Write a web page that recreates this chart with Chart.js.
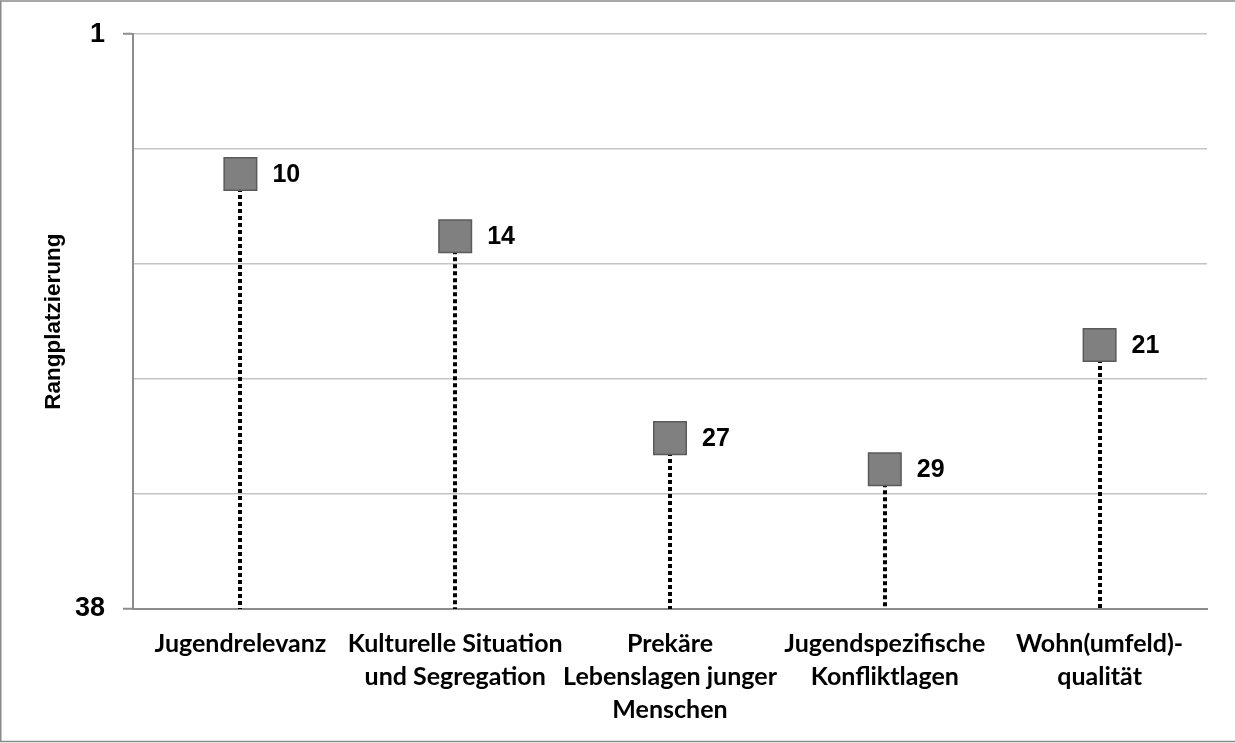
<!DOCTYPE html>
<html>
<head>
<meta charset="utf-8">
<script src="https://cdn.jsdelivr.net/npm/chart.js@4/dist/chart.umd.min.js"></script>
<style>
  html, body { margin: 0; padding: 0; background: #fff; }
  #wrap { position: relative; width: 1235px; height: 743px; }
  canvas { display: block; }
</style>
</head>
<body>
<div id="wrap"><canvas id="c" width="1235" height="743"></canvas></div>
<script>
const categories = [
  "Jugendrelevanz",
  ["Kulturelle Situation", "und Segregation"],
  ["Prekäre", "Lebenslagen junger", "Menschen"],
  ["Jugendspezifische", "Konfliktlagen"],
  ["Wohn(umfeld)-", "qualität"]
];
const ranks = [10, 14, 27, 29, 21];
const yMin = 1;
const yMax = 38;
const gridValues = [1, 8.4, 15.8, 23.2, 30.6, 38];
const yLabels = ["1", "38"];
const yTitle = "Rangplatzierung";

const frame = {
  id: 'frame',
  beforeDraw(chart) {
    const ctx = chart.ctx;
    ctx.save();
    ctx.fillStyle = '#fff';
    ctx.fillRect(0, 0, chart.width, chart.height);
    ctx.strokeStyle = '#8a8a8a';
    ctx.lineWidth = 1.5;
    ctx.beginPath();
    ctx.moveTo(chart.width, 1);
    ctx.lineTo(0.75, 1);
    ctx.lineTo(0.75, chart.height - 1.5);
    ctx.lineTo(chart.width, chart.height - 1.5);
    ctx.stroke();
    ctx.restore();
  }
};

const dropLines = {
  id: 'dropLines',
  beforeDatasetsDraw(chart) {
    const ctx = chart.ctx;
    const meta = chart.getDatasetMeta(0);
    const yScale = chart.scales.y;
    const bottom = yScale.getPixelForValue(yMax);
    ctx.save();
    ctx.strokeStyle = '#000';
    ctx.lineWidth = 4;
    ctx.setLineDash([4, 3]);
    meta.data.forEach((pt) => {
      ctx.beginPath();
      ctx.moveTo(Math.round(pt.x), pt.y);
      ctx.lineTo(Math.round(pt.x), bottom);
      ctx.stroke();
    });
    ctx.restore();
  },
  afterDatasetsDraw(chart) {
    const ctx = chart.ctx;
    const meta = chart.getDatasetMeta(0);
    ctx.save();
    ctx.fillStyle = '#000';
    ctx.font = 'bold 25px "Liberation Sans", Arial, sans-serif';
    ctx.textAlign = 'left';
    ctx.textBaseline = 'middle';
    meta.data.forEach((pt, i) => {
      ctx.fillText(String(ranks[i]), pt.x + 32, pt.y + 1);
    });
    ctx.restore();
  }
};

new Chart(document.getElementById('c'), {
  type: 'line',
  data: {
    labels: categories,
    datasets: [{
      data: ranks,
      showLine: false,
      pointStyle: 'rect',
      pointRadius: 23,
      pointHoverRadius: 23,
      pointBackgroundColor: '#808080',
      pointBorderColor: '#5a5a5a',
      pointBorderWidth: 1.5
    }]
  },
  plugins: [frame, dropLines],
  options: {
    responsive: false,
    animation: false,
    events: [],
    layout: { padding: { top: 32, right: 28, left: 0, bottom: 0 } },
    plugins: { legend: { display: false }, tooltip: { enabled: false } },
    scales: {
      x: {
        type: 'category',
        offset: true,
        grid: { display: false, drawTicks: false },
        border: { display: true, color: '#8c8c8c', width: 2 },
        ticks: {
          color: '#000',
          padding: 18,
          maxRotation: 0,
          autoSkip: false,
          font: { family: 'Lato, "Open Sans", sans-serif', weight: 'bold', size: 25, lineHeight: 1.32 }
        },
        afterFit(scale) { scale.height = 134; }
      },
      y: {
        type: 'linear',
        reverse: true,
        min: yMin,
        max: yMax,
        afterBuildTicks(scale) {
          scale.ticks = gridValues.map(v => ({ value: v }));
        },
        afterFit(scale) { scale.width = 133; },
        grid: {
          color: (c) => (c.tick && c.tick.value === yMax) ? 'rgba(0,0,0,0)' : '#c4c4c4',
          lineWidth: 1.5,
          drawTicks: true,
          tickLength: 10,
          tickColor: (c) => (c.tick && (c.tick.value === yMin || c.tick.value === yMax)) ? '#8c8c8c' : 'rgba(0,0,0,0)',
          tickWidth: 2
        },
        border: { display: true, color: '#8c8c8c', width: 2 },
        ticks: {
          color: '#000',
          padding: 18,
          autoSkip: false,
          font: { family: '"Liberation Sans", Arial, sans-serif', weight: 'bold', size: 27 },
          callback: (v) => v === yMin ? yLabels[0] : (v === yMax ? yLabels[1] : '')
        },
        title: {
          display: true,
          text: yTitle,
          color: '#000',
          font: { family: '"Liberation Sans", Arial, sans-serif', weight: 'bold', size: 22.5 },
          padding: { top: 40, bottom: 0 }
        }
      }
    }
  }
});
</script>
</body>
</html>
